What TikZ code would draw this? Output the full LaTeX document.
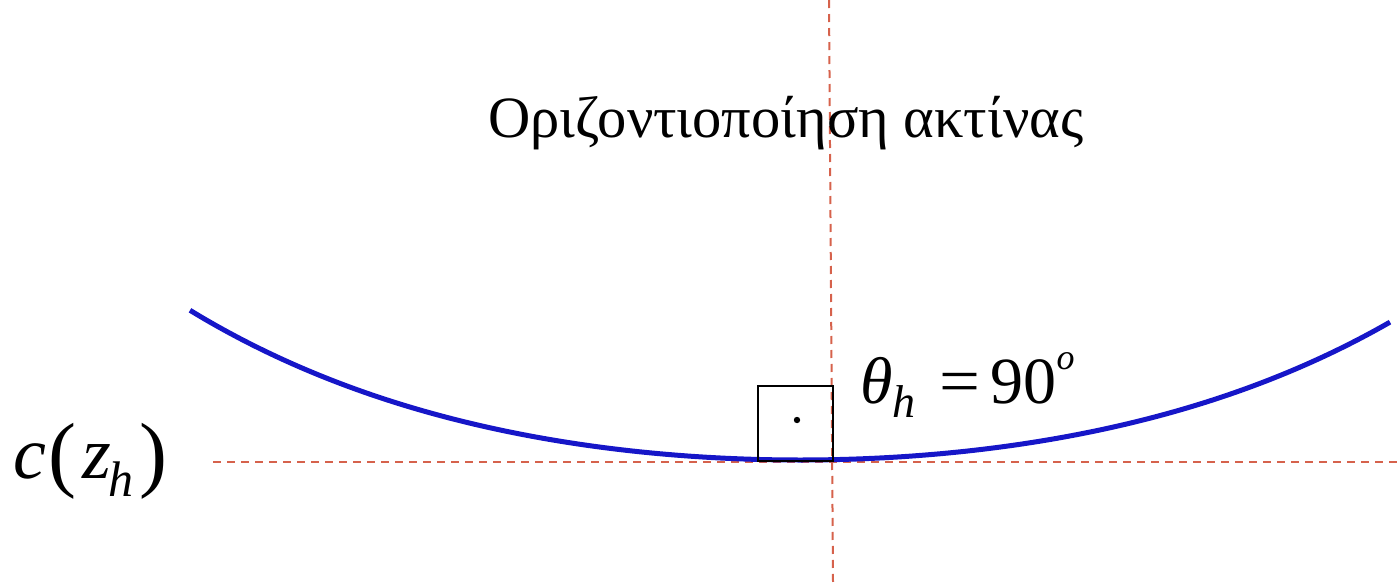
\documentclass[tikz,border=0pt]{standalone}
\usepackage{fontspec}
\setmainfont{Liberation Serif}
\begin{document}
\begin{tikzpicture}[x=1pt,y=-1pt,
  guide/.style={draw=guidered,line width=2pt,dash pattern=on 8pt off 6pt},
  curve/.style={draw=curveblue,line width=5pt},
  anglebox/.style={draw=black,line width=2pt},
  lbl/.style={inner sep=0pt,anchor=base west}]
\definecolor{guidered}{RGB}{214,98,76}
\definecolor{curveblue}{RGB}{22,22,200}
\useasboundingbox (0,0) rectangle (1398,582);
% guides
\coordinate (vtop) at (829,0);
\coordinate (vbot) at (833,582);
\coordinate (hl) at (213,461.5);
\coordinate (hr) at (1398,461.5);
\draw[guide] (vtop) -- (vbot);
\draw[guide] (hl) -- (hr);
% curve
\draw[curve] plot[domain=190:1390,samples=120,smooth] (\x,{460-77*(cosh((\x-800)/350)-1)});
% right-angle box
\coordinate (b1) at (758,386);
\coordinate (b2) at (833,461);
\draw[anglebox] (b1) rectangle (b2);
\fill (797,420) circle (3.2pt);
% labels
\node[inner sep=0pt,anchor=base] (title) at (786,137) {\fontsize{58.5}{70}\selectfont Οριζοντιοποίηση ακτίνας};
\node[lbl] (theta) at (860,403) {\fontsize{66}{78}\selectfont\itshape θ\raisebox{-14pt}{\fontsize{46}{50}\selectfont h}\upshape\hspace{24pt}\scalebox{1.1}[1]{=}\hspace{10pt}90\raisebox{34pt}{\fontsize{36}{40}\selectfont\itshape o}};
\node[lbl] (cz) at (13,478) {\fontsize{74}{86}\selectfont\itshape c\hspace{2pt}\upshape\raisebox{-3pt}{\fontsize{84}{90}\selectfont(}\hspace{6pt}\itshape z\hspace{-2pt}\raisebox{-18pt}{\fontsize{50}{56}\selectfont h}\upshape\hspace{6pt}\raisebox{-3pt}{\fontsize{84}{90}\selectfont)}};
\end{tikzpicture}
\end{document}
